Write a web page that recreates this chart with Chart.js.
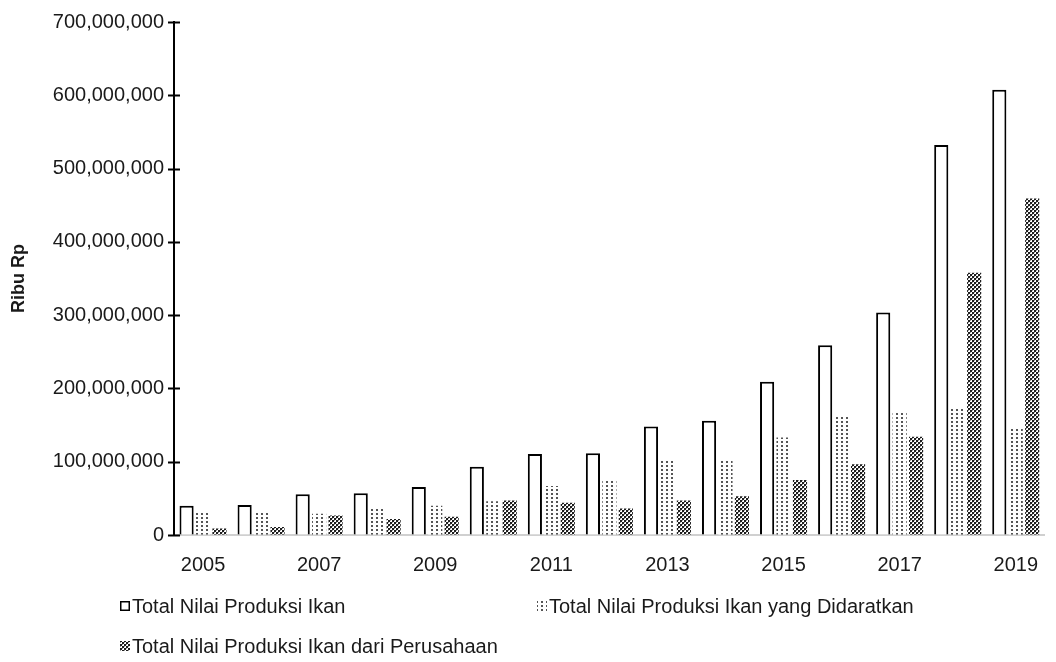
<!DOCTYPE html>
<html>
<head>
<meta charset="utf-8">
<title>Nilai Produksi Ikan 2005-2019</title>
<script src="https://cdn.jsdelivr.net/npm/chart.js@4.4.1/dist/chart.umd.min.js"></script>
<style>
  html, body { margin: 0; padding: 0; background: #ffffff; }
  canvas { display: block; }
</style>
</head>
<body>
<canvas id="chart" width="1056" height="662"></canvas>
<script>
// Years on the category axis
const years = ['2005', '2006', '2007', '2008', '2009', '2010', '2011', '2012',
               '2013', '2014', '2015', '2016', '2017', '2018', '2019'];

// Values in Ribu Rp
const nilaiTotal = [40000000, 41000000, 55500000, 57000000, 65500000, 93000000, 110500000,
                    111500000, 148000000, 156000000, 209000000, 259000000, 303500000,
                    532000000, 607500000];
const nilaiDidaratkan = [31000000, 30000000, 29000000, 35500000, 40000000, 46000000, 67000000,
                         75500000, 101500000, 103000000, 133000000, 162500000, 169000000,
                         172500000, 146000000];
const nilaiPerusahaan = [9000000, 11000000, 26500000, 22000000, 25000000, 47000000, 44000000,
                         36000000, 47000000, 53000000, 75000000, 96500000, 134000000,
                         358000000, 459000000];

const seriesNames = ['Total Nilai Produksi Ikan',
                     'Total Nilai Produksi Ikan yang Didaratkan',
                     'Total Nilai Produksi Ikan dari Perusahaan'];

const yMin = 0;
const yMax = 700000000;
const yStep = 100000000;
const yTitle = 'Ribu Rp';

const FONT = '"Liberation Sans", Arial, sans-serif';
const canvas = document.getElementById('chart');
const ctx = canvas.getContext('2d');

// Fill patterns: sparse dots and a dense checker
function tilePattern(w, h, paint) {
  const t = document.createElement('canvas');
  t.width = w; t.height = h;
  const g = t.getContext('2d');
  g.fillStyle = '#ffffff';
  g.fillRect(0, 0, w, h);
  paint(g);
  return ctx.createPattern(t, 'repeat');
}
const dotPattern = tilePattern(5, 4, g => {
  g.fillStyle = '#555555';
  g.fillRect(1, 1, 2, 2);
});
const checkPattern = tilePattern(4, 4, g => {
  g.fillStyle = '#1e1e1e';
  g.fillRect(0, 0, 2, 2);
  g.fillRect(2, 2, 2, 2);
  g.fillStyle = '#9a9a9a';
  g.fillRect(2, 0, 1, 1);
  g.fillRect(0, 2, 1, 1);
});

// Tick marks that cross the value axis on both sides
const crossTicks = {
  id: 'crossTicks',
  afterDraw(chart) {
    const y = chart.scales.y;
    const c = chart.ctx;
    c.save();
    c.strokeStyle = '#000';
    c.lineWidth = 2;
    y.ticks.forEach(t => {
      const py = Math.round(y.getPixelForValue(t.value)) + 0.5;
      c.beginPath();
      c.moveTo(y.right - 6, py);
      c.lineTo(y.right + 6, py);
      c.stroke();
    });
    c.restore();
  }
};

// Legend laid out in two rows below the axis
const rowLegend = {
  id: 'rowLegend',
  afterDraw(chart) {
    const c = chart.ctx;
    const spots = [{ x: 120, y: 606 }, { x: 537, y: 606 }, { x: 120, y: 646 }];
    c.save();
    c.font = '20px ' + FONT;
    c.textBaseline = 'middle';
    c.textAlign = 'left';
    chart.data.datasets.forEach((ds, i) => {
      const p = spots[i];
      const s = 10;
      c.fillStyle = ds.backgroundColor;
      c.fillRect(p.x, p.y - s / 2, s, s);
      if (ds.borderWidth) {
        c.strokeStyle = '#000';
        c.lineWidth = 1.5;
        c.strokeRect(p.x + 0.75, p.y - s / 2 + 0.75, s - 1.5, s - 1.5);
      }
      c.fillStyle = '#1a1a1a';
      c.fillText(ds.label, p.x + s + 2, p.y + 1);
    });
    c.restore();
  }
};

new Chart(ctx, {
  type: 'bar',
  data: {
    labels: years,
    datasets: [
      { label: seriesNames[0], data: nilaiTotal, backgroundColor: '#ffffff',
        borderColor: '#000000', borderWidth: 2 },
      { label: seriesNames[1], data: nilaiDidaratkan, backgroundColor: dotPattern,
        borderWidth: 0 },
      { label: seriesNames[2], data: nilaiPerusahaan, backgroundColor: checkPattern,
        borderWidth: 0 }
    ]
  },
  options: {
    responsive: false,
    animation: false,
    devicePixelRatio: 1,
    layout: { padding: { top: 5, right: 0, bottom: 0, left: 8 } },
    datasets: { bar: { categoryPercentage: 0.85, barPercentage: 0.86 } },
    plugins: {
      legend: { display: false },
      tooltip: { enabled: false }
    },
    scales: {
      x: {
        grid: { display: true, drawOnChartArea: false, drawTicks: false, color: 'rgba(0,0,0,0)' },
        border: { display: true, color: '#d0d0d0', width: 2 },
        ticks: {
          autoSkip: false,
          maxRotation: 0,
          padding: 18,
          color: '#1a1a1a',
          font: { family: FONT, size: 20 },
          callback: (v, i) => (i % 2 === 0 ? years[i] : '')
        },
        afterFit: s => { s.height = 127; }
      },
      y: {
        min: yMin,
        max: yMax,
        ticks: {
          stepSize: yStep,
          padding: 10,
          color: '#1a1a1a',
          font: { family: FONT, size: 20 },
          callback: v => Number(v).toLocaleString('en-US')
        },
        grid: { display: true, drawOnChartArea: false, drawTicks: false, color: 'rgba(0,0,0,0)' },
        border: { display: true, color: '#000000', width: 2 },
        title: {
          display: true,
          text: yTitle,
          color: '#1a1a1a',
          font: { family: FONT, size: 18, weight: 'bold' },
          padding: { top: 0, bottom: 0 }
        },
        afterFit: s => { s.width = 166; }
      }
    }
  },
  plugins: [crossTicks, rowLegend]
});
</script>
</body>
</html>
